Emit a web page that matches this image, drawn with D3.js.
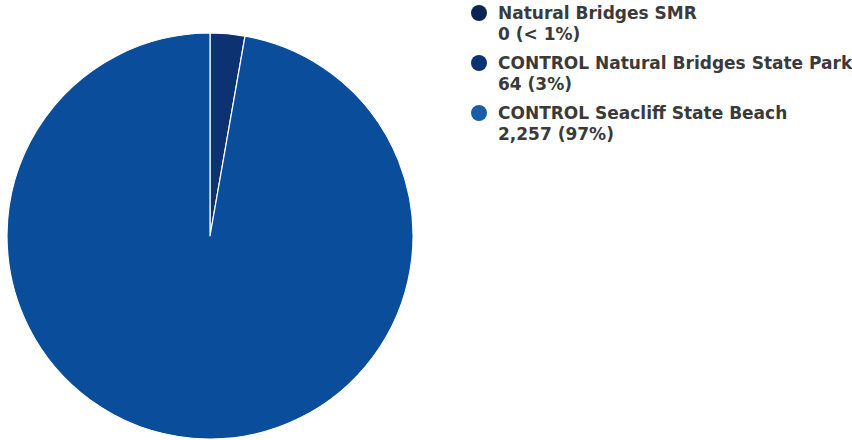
<!DOCTYPE html>
<html><head><meta charset="utf-8">
<script src="https://cdn.jsdelivr.net/npm/d3@7"></script>
<style>body{margin:0;background:#fff}</style>
</head><body>
<svg id="c" width="852" height="440"></svg>
<script>
const categories = ["Natural Bridges SMR", "CONTROL Natural Bridges State Park", "CONTROL Seacliff State Beach"];
const values = [0, 64, 2257];
const pctLabels = ["< 1%", "3%", "97%"];
const colors = ["#0b2453", "#0d3271", "#0a4d9b"];
const legendColors = ["#0b2453", "#0d3271", "#1a5ea8"];

const svg = d3.select("#c");
const cx = 210, cy = 236, r = 203;
const pie = d3.pie().sort(null).value(d => d)(values);
const arc = d3.arc().innerRadius(0).outerRadius(r);
svg.append("g").attr("transform", `translate(${cx},${cy})`)
  .selectAll("path").data(pie).join("path")
  .attr("d", arc).attr("fill", (d, i) => colors[i])
  .attr("stroke", "#fff").attr("stroke-width", 1.2).attr("stroke-linejoin", "round");

const fmt = d3.format(",");
const lg = svg.append("g").attr("font-family", "DejaVu Sans, sans-serif")
  .attr("font-weight", "bold").attr("font-size", 17).attr("fill", "#3a3a3a");
const item = lg.selectAll("g").data(categories).join("g")
  .attr("transform", (d, i) => `translate(479,${13 + i * 50})`);
item.append("circle").attr("r", 8).attr("fill", (d, i) => legendColors[i]);
item.append("text").attr("x", 19).attr("y", 6).text(d => d);
item.append("text").attr("x", 19).attr("y", 26.5).text((d, i) => `${fmt(values[i])} (${pctLabels[i]})`);
</script>
</body></html>
